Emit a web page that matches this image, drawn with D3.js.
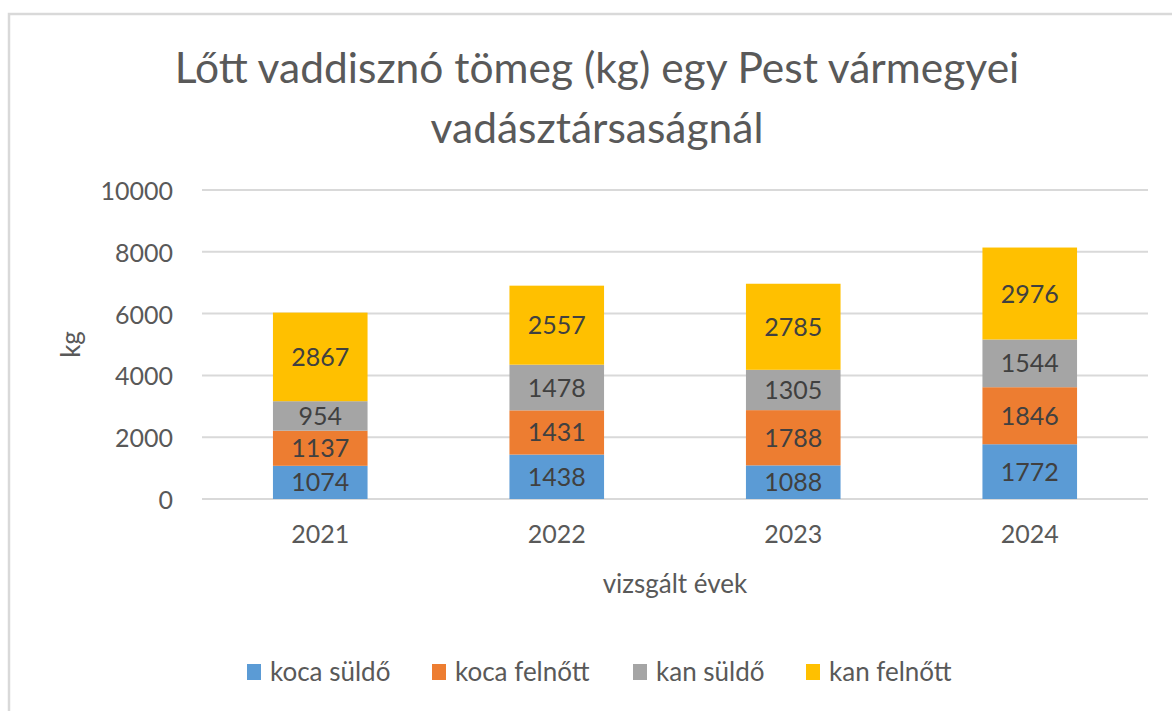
<!DOCTYPE html>
<html>
<head>
<meta charset="utf-8">
<script src="https://cdn.jsdelivr.net/npm/d3@7"></script>
<style>
  body { margin: 0; background: #fff; }
  text { font-family: Lato, "Open Sans", sans-serif; }
</style>
</head>
<body>
<div id="chart"></div>
<script>
var years = ["2021", "2022", "2023", "2024"];
var seriesNames = ["koca süldő", "koca felnőtt", "kan süldő", "kan felnőtt"];
var kocaSuldo = [1074, 1438, 1088, 1772];
var kocaFelnott = [1137, 1431, 1788, 1846];
var kanSuldo = [954, 1478, 1305, 1544];
var kanFelnott = [2867, 2557, 2785, 2976];
var yTicks = [0, 2000, 4000, 6000, 8000, 10000];
var colors = ["#5B9BD5", "#ED7D31", "#A5A5A5", "#FFC000"];

var W = 1172, H = 711;
var mrg = { top: 190, left: 202, right: 24, bottom: 212 };
var w = W - mrg.left - mrg.right, h = H - mrg.top - mrg.bottom;

var rows = years.map(function(y, i) {
  return { year: y, "koca süldő": kocaSuldo[i], "koca felnőtt": kocaFelnott[i],
           "kan süldő": kanSuldo[i], "kan felnőtt": kanFelnott[i] };
});
var stacked = d3.stack().keys(seriesNames)(rows);

var svg = d3.select("#chart").append("svg")
  .attr("width", W).attr("height", H);

// chart area frame (only left/top visible in the shot)
svg.append("rect")
  .attr("x", 9).attr("y", 14).attr("width", 1180).attr("height", 720)
  .attr("fill", "#fff").attr("stroke", "#d9d9d9").attr("stroke-width", 2.5);

// title
var title = svg.append("text")
  .attr("x", 597).attr("y", 83)
  .attr("text-anchor", "middle")
  .attr("fill", "#595959")
  .style("font-size", "42.5px");
title.append("tspan").attr("x", 597).text("Lőtt vaddisznó tömeg (kg) egy Pest vármegyei");
title.append("tspan").attr("x", 597).attr("dy", 60).text("vadásztársaságnál");

var chart = svg.append("g")
  .attr("transform", `translate(${mrg.left}, ${mrg.top})`);

var xScale = d3.scaleBand().domain(years).range([0, w]).paddingInner(0.6).paddingOuter(0.3);
var yScale = d3.scaleLinear().domain([0, 10000]).range([h, 0]);

// grid
chart.append("g")
  .selectAll("line")
  .data(yTicks)
  .enter()
  .append("line")
  .attr("x1", 0).attr("x2", w)
  .attr("y1", function(d) { return yScale(d); })
  .attr("y2", function(d) { return yScale(d); })
  .attr("stroke", "#d9d9d9").attr("stroke-width", 2);

var y_axis = d3.axisLeft(yScale).tickValues(yTicks).tickFormat(d3.format("d"))
  .tickSize(0).tickPadding(29);
chart.append("g")
  .attr("class", "yAxis")
  .call(y_axis)
  .call(function(g) { g.select(".domain").remove(); })
  .selectAll("text")
  .attr("fill", "#595959")
  .style("font-size", "25px")
  .attr("dy", "0.38em");

var x_axis = d3.axisBottom(xScale).tickSize(0).tickPadding(26);
chart.append("g")
  .attr("class", "xAxis")
  .attr("transform", `translate(0, ${h})`)
  .call(x_axis)
  .call(function(g) { g.select(".domain").remove(); })
  .selectAll("text")
  .attr("fill", "#595959")
  .style("font-size", "25px");

// bars
var layers = chart.append("g")
  .selectAll("g")
  .data(stacked)
  .enter()
  .append("g")
  .attr("fill", function(d, i) { return colors[i]; });

layers.selectAll("rect")
  .data(function(d) { return d; })
  .enter()
  .append("rect")
  .attr("x", function(d) { return xScale(d.data.year); })
  .attr("y", function(d) { return yScale(d[1]); })
  .attr("width", xScale.bandwidth())
  .attr("height", function(d) { return yScale(d[0]) - yScale(d[1]); });

layers.selectAll("text")
  .data(function(d) { return d; })
  .enter()
  .append("text")
  .attr("x", function(d) { return xScale(d.data.year) + xScale.bandwidth() / 2; })
  .attr("y", function(d) { return (yScale(d[0]) + yScale(d[1])) / 2; })
  .attr("dy", "0.36em")
  .attr("text-anchor", "middle")
  .attr("fill", "#404040")
  .style("font-size", "25px")
  .text(function(d) { return d[1] - d[0]; });

// axis titles
svg.append("text")
  .attr("transform", `translate(80, ${mrg.top + h / 2}) rotate(-90)`)
  .attr("text-anchor", "middle")
  .attr("fill", "#595959")
  .style("font-size", "26px")
  .text("kg");

svg.append("text")
  .attr("x", mrg.left + w / 2).attr("y", 593)
  .attr("text-anchor", "middle")
  .attr("fill", "#595959")
  .style("font-size", "26px")
  .text("vizsgált évek");

// legend
var legendX = [247, 432, 633, 806];
var legend = svg.append("g")
  .selectAll("g")
  .data(seriesNames)
  .enter()
  .append("g")
  .attr("transform", function(d, i) { return `translate(${legendX[i]}, 672)`; });
legend.append("rect")
  .attr("x", 0).attr("y", -8).attr("width", 14).attr("height", 16)
  .attr("fill", function(d, i) { return colors[i]; });
legend.append("text")
  .attr("x", 23).attr("dy", "0.36em")
  .attr("fill", "#595959")
  .style("font-size", "26px")
  .text(function(d) { return d; });
</script>
</body>
</html>
